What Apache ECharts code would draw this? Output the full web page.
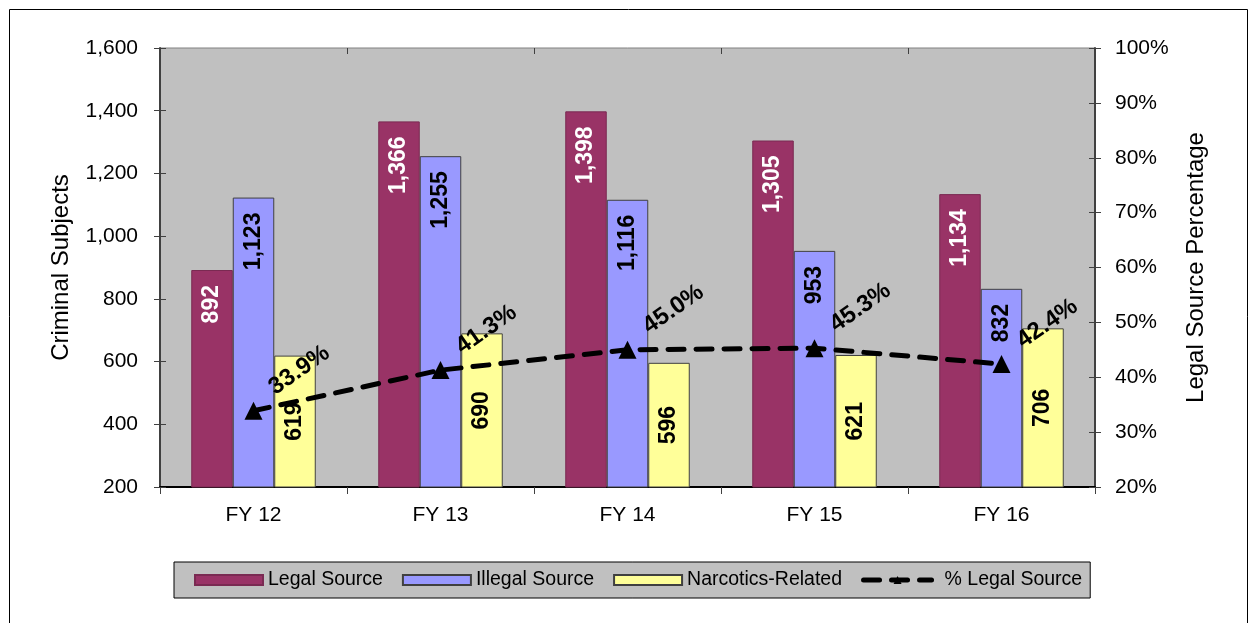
<!DOCTYPE html>
<html>
<head>
<meta charset="utf-8">
<script src="https://cdn.jsdelivr.net/npm/echarts@6/dist/echarts.min.js"></script>
<style>
  html, body { margin: 0; padding: 0; background: #fff; }
  #chart { width: 1254px; height: 623px; }
</style>
</head>
<body>
<div id="chart"></div>
<script>
// Fiscal years on the category axis
const categories = ['FY 12', 'FY 13', 'FY 14', 'FY 15', 'FY 16'];
// Criminal subjects by source
const legalSource = [892, 1366, 1398, 1305, 1134];
const illegalSource = [1123, 1255, 1116, 953, 832];
const narcoticsRelated = [619, 690, 596, 621, 706];
// Share of subjects with a legal source, percent
const legalSourcePct = [33.9, 41.3, 45.0, 45.3, 42.4];
// Axis ranges
const countAxis = { min: 200, max: 1600, interval: 200 };
const pctAxis = { min: 20, max: 100, interval: 10 };

const FONT = "'Liberation Sans', Arial, sans-serif";
const AXIS_COLOR = '#404040';
const thousands = v => Number(v).toLocaleString('en-US');

const chart = echarts.init(document.getElementById('chart'), null, { renderer: 'canvas' });

function barLabel(color, inside) {
  const common = {
    show: true, rotate: 90, color, fontFamily: FONT, fontWeight: 'bold', fontSize: 23,
    formatter: p => thousands(p.value)
  };
  return inside
    ? Object.assign(common, { position: 'inside', align: 'center', verticalAlign: 'middle' })
    : Object.assign(common, { position: 'insideTop', distance: 15, align: 'right', verticalAlign: 'middle' });
}

const hiddenTickAxis = (base) => Object.assign({}, base, {
  axisLabel: { show: false }, axisLine: { show: false }, name: '',
  axisTick: { show: true, inside: true, length: 6, lineStyle: { color: AXIS_COLOR, width: 1 } },
  splitLine: { show: false }
});

const yLeft = {
  type: 'value', position: 'left', ...countAxis,
  name: 'Criminal Subjects', nameLocation: 'middle', nameGap: 87, nameRotate: 90,
  nameTextStyle: { fontFamily: FONT, fontSize: 24, color: '#000' },
  axisLine: { show: true, lineStyle: { color: AXIS_COLOR, width: 2 } },
  axisTick: { show: true, length: 6, lineStyle: { color: AXIS_COLOR, width: 1 } },
  axisLabel: { fontFamily: FONT, fontSize: 21, color: '#000', margin: 22, formatter: v => thousands(v) },
  splitLine: { show: false }
};
const yRight = {
  type: 'value', position: 'right', ...pctAxis,
  name: 'Legal Source Percentage', nameLocation: 'middle', nameGap: 89, nameRotate: 90,
  nameTextStyle: { fontFamily: FONT, fontSize: 24, color: '#000' },
  axisLine: { show: true, lineStyle: { color: AXIS_COLOR, width: 2 } },
  axisTick: { show: true, length: 6, lineStyle: { color: AXIS_COLOR, width: 1 } },
  axisLabel: { fontFamily: FONT, fontSize: 21, color: '#000', margin: 20, formatter: v => v + '%' },
  splitLine: { show: false }
};
const xMain = {
  type: 'category', data: categories, boundaryGap: true,
  axisLine: { show: true, lineStyle: { color: '#000', width: 2 } },
  axisTick: { show: true, length: 7, alignWithLabel: false, lineStyle: { color: AXIS_COLOR, width: 1 } },
  axisLabel: { fontFamily: FONT, fontSize: 21, color: '#000', margin: 18 }
};

chart.setOption({
  animation: false,
  backgroundColor: '#fff',
  textStyle: { fontFamily: FONT },
  grid: {
    left: 160, right: 159, top: 48, bottom: 136,
    show: true, backgroundColor: '#C0C0C0', borderColor: '#808080', borderWidth: 1
  },
  graphic: [{
    type: 'rect', silent: true, z: -10,
    shape: { x: 9.5, y: 9.5, width: 1238, height: 700 },
    style: { fill: 'none', stroke: '#000', lineWidth: 1 }
  }],
  legend: {
    left: 174, top: 562,
    padding: [8, 8, 8, 20], itemGap: 19, itemWidth: 68, itemHeight: 10,
    backgroundColor: '#C0C0C0', borderColor: '#000', borderWidth: 1,
    textStyle: { fontFamily: FONT, fontSize: 19.5, color: '#000' },
    data: [
      { name: 'Legal Source', icon: 'rect' },
      { name: 'Illegal Source', icon: 'rect' },
      { name: 'Narcotics-Related', icon: 'rect' },
      {
        name: '% Legal Source',
        lineStyle: { width: 5, type: [16, 12], cap: 'round' },
        textStyle: { padding: [0, 0, 0, 8] }
      }
    ]
  },
  xAxis: [xMain, Object.assign({}, xMain, {
    axisLabel: { show: false }, axisLine: { show: false },
    axisTick: { show: true, inside: true, length: 6, alignWithLabel: false, lineStyle: { color: AXIS_COLOR, width: 1 } }
  })],
  yAxis: [yLeft, yRight, hiddenTickAxis(yLeft), hiddenTickAxis(yRight)],
  series: [
    {
      name: 'Legal Source', type: 'bar', data: legalSource, barWidth: 41.5, barGap: '0%',
      itemStyle: { color: '#993366', borderColor: '#7a2a52', borderWidth: 1 },
      label: barLabel('#fff', false)
    },
    {
      name: 'Illegal Source', type: 'bar', data: illegalSource, barWidth: 41.5, barGap: '0%',
      itemStyle: { color: '#9999FF', borderColor: '#404040', borderWidth: 1 },
      label: barLabel('#000', false)
    },
    {
      name: 'Narcotics-Related', type: 'bar', data: narcoticsRelated, barWidth: 41.5, barGap: '0%',
      itemStyle: { color: '#FFFF99', borderColor: '#404040', borderWidth: 1 },
      label: barLabel('#000', true)
    },
    {
      name: '% Legal Source', type: 'line', yAxisIndex: 1, data: legalSourcePct, z: 10,
      symbol: 'triangle', symbolSize: 18,
      itemStyle: { color: '#000' },
      lineStyle: { color: '#000', width: 5, type: [16, 12], cap: 'round' },
      label: {
        show: true, position: [27, -12], rotate: 35, align: 'left', verticalAlign: 'middle',
        color: '#000', fontFamily: FONT, fontWeight: 'bold', fontSize: 24,
        formatter: p => p.value.toFixed(1) + '%'
      }
    }
  ]
});
</script>
</body>
</html>
